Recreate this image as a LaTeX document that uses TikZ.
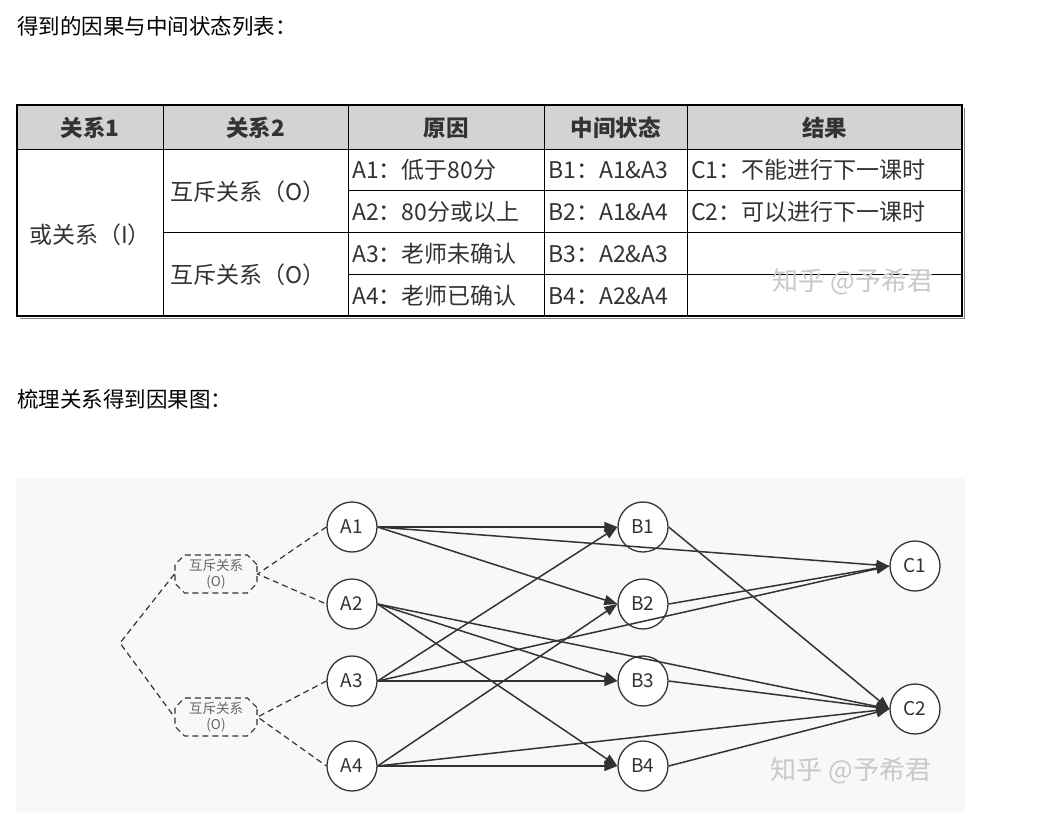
\documentclass[tikz,border=0pt]{standalone}
\usepackage{fontspec}
\setmainfont{Noto Sans CJK SC}
\usetikzlibrary{arrows.meta,shapes.misc}
\definecolor{hdr}{HTML}{D3D3D3}
\definecolor{gbg}{HTML}{F8F8F8}
\definecolor{ink}{HTML}{333333}
\definecolor{wm}{HTML}{C8C8C8}
\definecolor{boxtxt}{HTML}{666666}
\tikzset{
  heading/.style={anchor=west,inner sep=0pt,font=\fontsize{21.5}{24}\selectfont,text=black},
  hcell/.style={inner sep=0pt,font=\fontsize{22.5}{26}\selectfont\bfseries,text=ink},
  cell/.style={anchor=west,inner sep=0pt,font=\fontsize{23}{26}\selectfont,text=ink},
  ccell/.style={inner sep=0pt,font=\fontsize{23}{26}\selectfont,text=ink},
  tline/.style={draw=black,line width=1pt},
  watermark/.style={inner sep=0pt,font=\fontsize{26}{30}\selectfont,text=wm},
  st/.style={circle,draw=ink,fill=white,line width=1.3pt,minimum size=50pt,inner sep=0pt,font=\fontsize{19}{22}\selectfont,text=ink},
  relbox/.style={chamfered rectangle,chamfered rectangle xsep=6pt,draw=ink,dashed,line width=1.2pt,dash pattern=on 6pt off 4pt,minimum width=82pt,minimum height=38pt,inner sep=0pt,align=center,font=\fontsize{13.5}{16}\selectfont,text=boxtxt},
  dline/.style={draw=ink,line width=1.2pt,dash pattern=on 6pt off 4pt},
  edge/.style={draw=ink,line width=1.5pt,-{Triangle[length=13pt,width=10pt]}},
}
\begin{document}
\begin{tikzpicture}[x=1pt,y=-1pt]
\useasboundingbox (0,0) rectangle (1039,831);
\fill[white] (0,0) rectangle (1039,831);

% headings
\node[heading] (h1) at (17,26) {得到的因果与中间状态列表：};
\node[heading] (h2) at (17,399) {梳理关系得到因果图：};

% table
\fill[hdr] (17,105) rectangle (962,149);
\draw[gray,line width=1.5pt] (20,318.5) -- (964.5,318.5) -- (964.5,108);
\draw[tline] (17,149) -- (962,149);
\draw[tline] (348,190) -- (962,190);
\draw[tline] (163,232) -- (962,232);
\draw[tline] (348,274) -- (962,274);
\foreach \cx in {163,348,544,687} \draw[tline] (\cx,105) -- (\cx,316);
\draw[black,line width=2pt] (17,105) rectangle (962,316);

\node[hcell] (t11) at (90,128) {关系1};
\node[hcell] (t12) at (255.5,128) {关系2};
\node[hcell] (t13) at (446,128) {原因};
\node[hcell] (t14) at (615.5,128) {中间状态};
\node[hcell] (t15) at (824.5,128) {结果};

\node[cell] (r1) at (29,235) {或关系（I）};
\node[ccell] (r2a) at (248,192) {互斥关系（O）};
\node[ccell] (r2b) at (248,275) {互斥关系（O）};

\node[cell] (ca1) at (352,170) {A1：低于80分};
\node[cell] (ca2) at (352,212) {A2：80分或以上};
\node[cell] (ca3) at (352,254) {A3：老师未确认};
\node[cell] (ca4) at (352,296) {A4：老师已确认};
\node[cell] (cb1) at (548,170) {B1：A1\&A3};
\node[cell] (cb2) at (548,212) {B2：A1\&A4};
\node[cell] (cb3) at (548,254) {B3：A2\&A3};
\node[cell] (cb4) at (548,296) {B4：A2\&A4};
\node[cell] (cc1) at (691,170) {C1：不能进行下一课时};
\node[cell] (cc2) at (691,212) {C2：可以进行下一课时};

\node[watermark] (wm1) at (853,282) {知乎 @予希君};

% graph background
\fill[gbg] (16,478) rectangle (965,812);

\node[st] (A1) at (352,527) {A1};
\node[st] (A2) at (352,604) {A2};
\node[st] (A3) at (352,681) {A3};
\node[st] (A4) at (352,766) {A4};
\node[st] (B1) at (643,527) {B1};
\node[st] (B2) at (643,604) {B2};
\node[st] (B3) at (643,681) {B3};
\node[st] (B4) at (643,766) {B4};
\node[st] (C1) at (915,566) {C1};
\node[st] (C2) at (915,709) {C2};

\node[relbox] (O1) at (216,574) {互斥关系\\(O)};
\node[relbox] (O2) at (216,717) {互斥关系\\(O)};
\coordinate (R) at (120,643);

\draw[dline] (O1.west) -- (R) -- (O2.west);
\draw[dline] (A1.west) -- (O1.east) -- (A2.west);
\draw[dline] (A3.west) -- (O2.east) -- (A4.west);

\draw[edge] (A1.east) -- (B1.west);
\draw[edge] (A1.east) -- (B2.west);
\draw[edge] (A1.east) -- (C1.west);
\draw[edge] (A2.east) -- (B3.west);
\draw[edge] (A2.east) -- (B4.west);
\draw[edge] (A2.east) -- (C2.west);
\draw[edge] (A3.east) -- (B1.west);
\draw[edge] (A3.east) -- (B3.west);
\draw[edge] (A3.east) -- (C1.west);
\draw[edge] (A4.east) -- (B2.west);
\draw[edge] (A4.east) -- (B4.west);
\draw[edge] (A4.east) -- (C2.west);
\draw[edge] (B1.east) -- (C2.west);
\draw[edge] (B2.east) -- (C1.west);
\draw[edge] (B3.east) -- (C2.west);
\draw[edge] (B4.east) -- (C2.west);

\node[watermark] (wm2) at (851,771) {知乎 @予希君};
\end{tikzpicture}
\end{document}
